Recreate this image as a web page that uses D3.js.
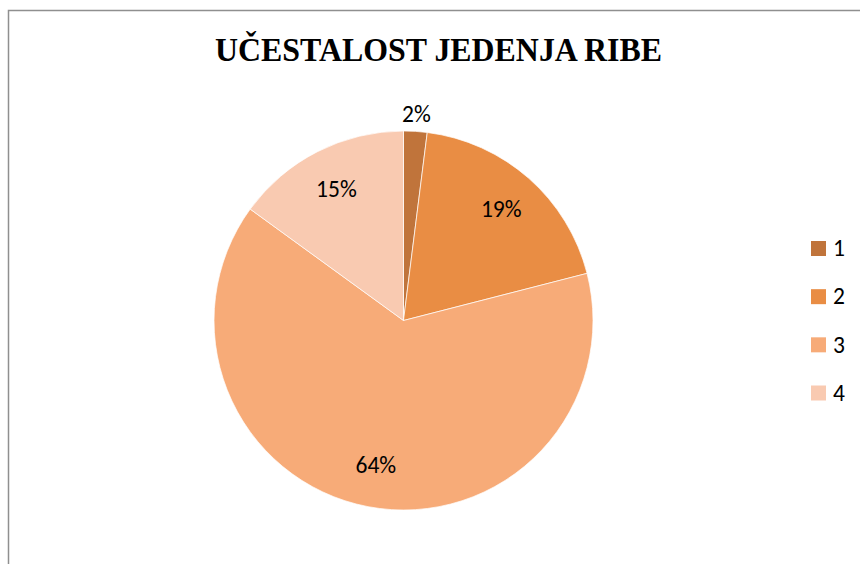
<!DOCTYPE html>
<html>
<head>
<meta charset="utf-8">
<script src="https://cdn.jsdelivr.net/npm/d3@7"></script>
<style>
html,body{margin:0;padding:0;background:#fff;}
svg{display:block;}
</style>
</head>
<body>
<svg id="chart" width="860" height="564"></svg>
<script>
const title = "UČESTALOST JEDENJA RIBE";
const categories = ["1", "2", "3", "4"];
const values = [2, 19, 64, 15];
const labels = ["2%", "19%", "64%", "15%"];
const colors = ["#C0743B", "#E98D44", "#F7AB78", "#F9CAB1"];

const svg = d3.select("#chart");
const W = 860, H = 564;

// chart frame (extends past the window on right and bottom)
svg.append("rect")
  .attr("x", 8.5).attr("y", 10.5)
  .attr("width", W + 20).attr("height", H + 20)
  .attr("fill", "none").attr("stroke", "#8f8f8f").attr("stroke-width", 1.5);

// title
svg.append("text")
  .attr("x", 438.5).attr("y", 61)
  .attr("text-anchor", "middle")
  .attr("font-family", "'Liberation Serif','Times New Roman',serif")
  .attr("font-weight", "bold")
  .attr("font-size", 34)
  .attr("textLength", 447)
  .attr("lengthAdjust", "spacingAndGlyphs")
  .attr("fill", "#000")
  .text(title);

const cx = 403.5, cy = 320.5, r = 189.5;
const g = svg.append("g").attr("transform", `translate(${cx},${cy})`);

const color = d3.scaleOrdinal().domain(categories).range(colors);
const pie = d3.pie().sort(null).value(d => d.v);
const data = categories.map((c, i) => ({c, v: values[i], l: labels[i]}));
const arcs = pie(data);
const arc = d3.arc().innerRadius(0).outerRadius(r);

g.selectAll("path.slice").data(arcs).enter().append("path")
  .attr("class", "slice")
  .attr("d", arc)
  .attr("fill", d => color(d.data.c))
  .attr("stroke", "#fff")
  .attr("stroke-width", 0.7);

const total = d3.sum(values);
const inArc = d3.arc().innerRadius(r * 0.78).outerRadius(r * 0.78);
const outArc = d3.arc().innerRadius(r * 1.09).outerRadius(r * 1.09);

g.selectAll("text.lbl").data(arcs).enter().append("text")
  .attr("class", "lbl")
  .attr("transform", d => {
    const p = (d.data.v / total < 0.05 ? outArc : inArc).centroid(d);
    return `translate(${p[0]},${p[1]})`;
  })
  .attr("text-anchor", "middle")
  .attr("dy", "0.33em")
  .attr("font-family", "Carlito, Calibri, Lato, sans-serif")
  .attr("font-size", 23.5)
  .attr("fill", "#000")
  .text(d => d.data.l);

// legend
const legY = d3.scalePoint().domain(categories).range([248.5, 393]);
const leg = svg.append("g");
const items = leg.selectAll("g").data(categories).enter().append("g")
  .attr("transform", d => `translate(811,${legY(d)})`);
items.append("rect")
  .attr("x", 0).attr("y", -7.5)
  .attr("width", 15).attr("height", 15)
  .attr("fill", d => color(d));
items.append("text")
  .attr("x", 22).attr("y", 0).attr("dy", "0.33em")
  .attr("font-family", "Carlito, Calibri, Lato, sans-serif")
  .attr("font-size", 23.5)
  .attr("fill", "#000")
  .text(d => d);
</script>
</body>
</html>
